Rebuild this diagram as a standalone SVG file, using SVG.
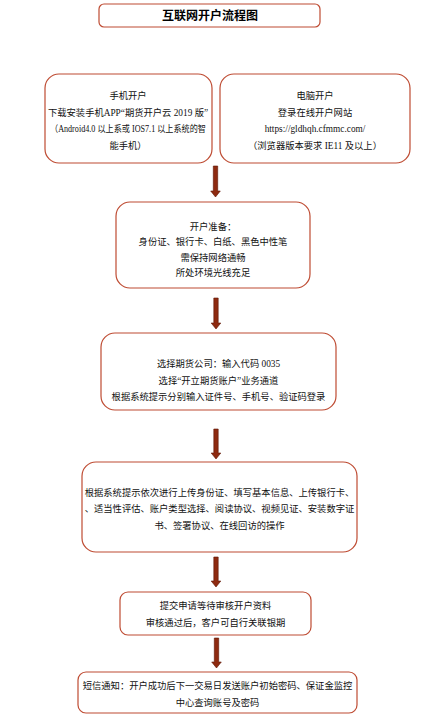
<svg xmlns="http://www.w3.org/2000/svg" width="425" height="721" viewBox="0 0 425 721">
<style>
.box{fill:#fff;stroke:#BE4B32;stroke-width:1.2}
.t{font-family:"Liberation Serif","Noto Sans CJK SC",serif;font-size:9.3px;fill:#111;text-anchor:middle}
.title{font-family:"Liberation Serif","Noto Sans CJK SC",serif;font-size:12px;font-weight:bold;fill:#000;text-anchor:middle}
.arr{fill:#8E2A10;stroke:#5E1605;stroke-width:0.6}
</style>
<rect width="425" height="721" fill="#fff"/>
<g id="title">
<rect class="box" x="99" y="4" width="221" height="23" rx="5"/>
<text class="title" x="210" y="20">互联网开户流程图</text>
</g>
<g id="phone">
<rect class="box" x="45" y="74" width="167" height="89" rx="14"/>
<text class="t" x="128" y="98.5">手机开户</text>
<text class="t" x="128" y="115.5">下载安装手机APP“期货开户云 2019 版”</text>
<text class="t" x="128" y="131.5" textLength="156" lengthAdjust="spacingAndGlyphs">（Android4.0 以上系或 IOS7.1 以上系统的智</text>
<text class="t" x="128" y="148.5">能手机）</text>
</g>
<g id="pc">
<rect class="box" x="220" y="74" width="190" height="89" rx="14"/>
<text class="t" x="315" y="98.5">电脑开户</text>
<text class="t" x="315" y="115.5">登录在线开户网站</text>
<text class="t" x="315" y="131.5">https://gldhqh.cfmmc.com/</text>
<text class="t" x="315" y="148.5">（浏览器版本要求 IE11 及以上）</text>
</g>
<g id="prep">
<rect class="box" x="116" y="202" width="194" height="86" rx="14"/>
<text class="t" x="213" y="229.5">开户准备：</text>
<text class="t" x="213" y="244.5">身份证、银行卡、白纸、黑色中性笔</text>
<text class="t" x="213" y="260.5">需保持网络通畅</text>
<text class="t" x="213" y="275.5">所处环境光线充足</text>
</g>
<g id="select">
<rect class="box" x="101" y="333" width="235" height="77" rx="14"/>
<text class="t" x="218.5" y="366.5">选择期货公司：输入代码 0035</text>
<text class="t" x="218.5" y="383.5">选择“开立期货账户”业务通道</text>
<text class="t" x="218.5" y="399.5">根据系统提示分别输入证件号、手机号、验证码登录</text>
</g>
<g id="upload">
<rect class="box" x="82" y="462" width="275" height="90" rx="14"/>
<text class="t" x="219.5" y="495.5">根据系统提示依次进行上传身份证、填写基本信息、上传银行卡、</text>
<text class="t" x="219.5" y="511.5">、适当性评估、账户类型选择、阅读协议、视频见证、安装数字证</text>
<text class="t" x="219.5" y="528.5">书、签署协议、在线回访的操作</text>
</g>
<g id="submit">
<rect class="box" x="120" y="592" width="191" height="43" rx="8"/>
<text class="t" x="215.5" y="608.5">提交申请等待审核开户资料</text>
<text class="t" x="215.5" y="625.5">审核通过后，客户可自行关联银期</text>
</g>
<g id="sms">
<rect class="box" x="78" y="672" width="279" height="41" rx="8"/>
<text class="t" x="217.5" y="688.5">短信通知：开户成功后下一交易日发送账户初始密码、保证金监控</text>
<text class="t" x="217.5" y="705.5">中心查询账号及密码</text>
</g>
<g id="connectors">
<path class="arr" d="M213.3,166 H217.7 V191 H220.3 L215.5,197 L210.7,191 H213.3 Z"/>
<path class="arr" d="M213.8,298 H218.2 V323 H220.8 L216,329 L211.2,323 H213.8 Z"/>
<path class="arr" d="M213.8,429 H218.2 V453 H220.8 L216,459 L211.2,453 H213.8 Z"/>
<path class="arr" d="M213.8,557 H218.2 V581 H220.8 L216,587 L211.2,581 H213.8 Z"/>
<path class="arr" d="M214.3,638 H218.7 V662 H221.3 L216.5,668 L211.7,662 H214.3 Z"/>
</g>
</svg>
